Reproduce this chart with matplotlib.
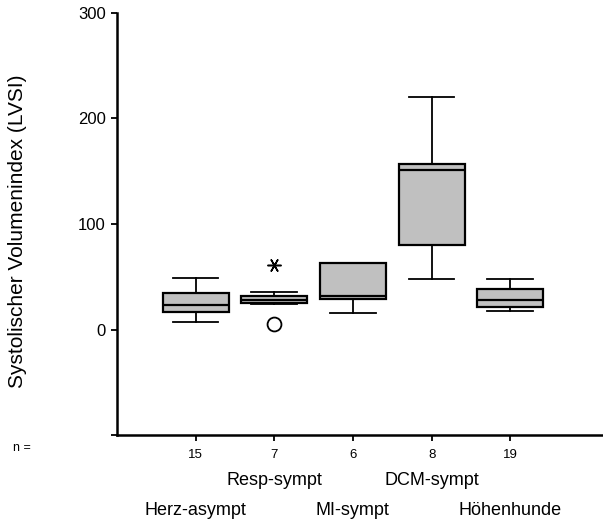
import matplotlib as mpl
mpl.use('Agg')
import matplotlib.pyplot as plt

plt.rcParams['font.family'] = ['Liberation Sans', 'DejaVu Sans']

# group labels, sample sizes and box statistics
groups = ['Herz-asympt', 'Resp-sympt', 'MI-sympt', 'DCM-sympt', 'Höhenhunde']
n_vals = [15, 7, 6, 8, 19]
whislo = [7, 24, 16, 48, 18]
q1 = [17, 25, 29, 80, 21.5]
med = [23, 27.5, 32, 151, 28]
q3 = [35, 31.5, 63, 157, 38]
whishi = [49, 36, 63, 220, 48]
# outliers (circle) and extremes (asterisk) per group
outliers = [[], [5], [], [], []]
extremes = [[], [61], [], [], []]

yticks = [0, 100, 200, 300]

fig = plt.figure(figsize=(6.03, 5.21), dpi=100)
ax = fig.add_axes([117 / 603, 1 - 435 / 521, 1 - 117 / 603, 422 / 521])

stats = []
for i in range(len(groups)):
    stats.append({'whislo': whislo[i], 'q1': q1[i], 'med': med[i],
                  'q3': q3[i], 'whishi': whishi[i], 'fliers': []})

pos = list(range(1, len(groups) + 1))
ax.bxp(stats, positions=pos, widths=0.84, patch_artist=True, showfliers=False,
       boxprops=dict(facecolor='#c0c0c0', edgecolor='black', linewidth=1.6),
       medianprops=dict(color='black', linewidth=1.6),
       whiskerprops=dict(color='black', linewidth=1.3),
       capprops=dict(color='black', linewidth=1.3),
       capwidths=0.58)

for i in range(len(groups)):
    for v in outliers[i]:
        ax.plot(pos[i], v, marker='o', markersize=10, markerfacecolor='white',
                markeredgecolor='black', markeredgewidth=1.3, linestyle='none')
    for v in extremes[i]:
        ax.plot(pos[i], v, marker=(6, 2, 90), markersize=10, color='black',
                markeredgewidth=1.1, linestyle='none')

ax.set_xlim(0, 6.18)
ax.set_ylim(-100, 300)
ax.set_yticks([-100] + yticks)
ax.set_yticklabels([''] + [str(t) for t in yticks], fontsize=12)
ax.set_xticks(pos)
ax.set_xticklabels([str(v) for v in n_vals], fontsize=9.5)
ax.tick_params(axis='both', direction='out', length=4, width=1.3, pad=4)
ax.tick_params(axis='x', pad=6)

for s in ['top', 'right']:
    ax.spines[s].set_visible(False)
ax.spines['left'].set_linewidth(1.8)
ax.spines['bottom'].set_linewidth(1.8)

# staggered group names under the axis
tr = ax.get_xaxis_transform()
for i, g in enumerate(groups):
    yy = -0.109 if i % 2 == 1 else -0.178
    ax.text(pos[i], yy, g, transform=tr, ha='center', va='center', fontsize=13)

fig.text(22 / 603, 1 - 448 / 521, 'n =', ha='center', va='center', fontsize=9)
fig.text(18 / 603, 1 - 231 / 521, 'Systolischer Volumenindex (LVSI)',
         rotation=90, ha='center', va='center', fontsize=15)

fig.savefig('out.png', dpi=100)
